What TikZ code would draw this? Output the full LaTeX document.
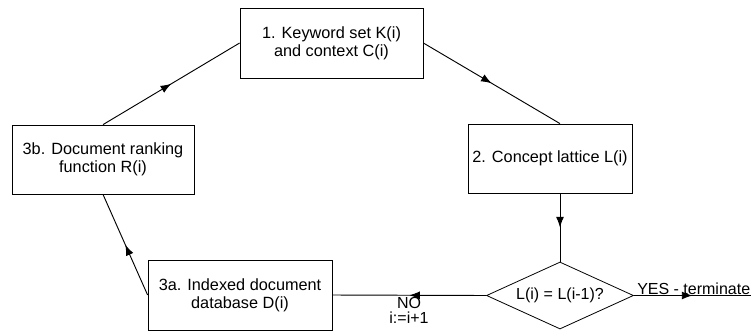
\documentclass[tikz,border=0pt]{standalone}
\usepackage{fontspec}
\setmainfont{Liberation Sans}
\usetikzlibrary{shapes.geometric, arrows.meta, decorations.markings, calc}
\tikzset{>=Latex}
\tikzset{
  stepbox/.style={draw, line width=0.6pt, align=center, inner sep=2pt,
    font=\fontsize{12.2}{13.5}\selectfont},
  test/.style={draw, diamond, line width=0.6pt, aspect=2.2, inner sep=1pt,
    minimum width=110.25pt, minimum height=50.25pt, font=\fontsize{12}{13.5}\selectfont},
  flow/.style={line width=0.7pt, postaction={decorate}, decoration={markings,
    mark=at position 0.5 with {\arrow{Latex[length=8pt,width=6pt]}}}},
  lbl/.style={font=\fontsize{12}{13.5}\selectfont, inner sep=0pt}
}

\begin{document}
\begin{tikzpicture}[x=0.75pt, y=-0.75pt]
  \useasboundingbox (0,0) rectangle (751,333);
  \node[stepbox, minimum width=137.25pt, minimum height=52.5pt] (kw) at (331.5,43) {1. Keyword set K(i)\\and context C(i)};
  \node[stepbox, minimum width=123pt, minimum height=51.75pt] (lat) at (550,158.5) {2. Concept lattice L(i)};
  \node[test] (same) at (560,295.5) {L(i) = L(i-1)?};
  \node[stepbox, minimum width=138pt, minimum height=52.5pt] (db) at (240,295) {3a. Indexed document\\database D(i)};
  \node[stepbox, minimum width=136.5pt, minimum height=51.75pt] (rank) at (103,159.5) {3b. Document ranking\\function R(i)};
  \coordinate (stop) at (751,295.5);
  % cycle
  \draw[flow] (kw.east) -- (lat.north -| same.north);
  \draw[flow] (lat.south -| same.north) -- (same.north);
  \draw[flow] (same.west) -- (db.east);
  \draw[flow] (db.west) -- (rank.south);
  \draw[flow] (rank.north) -- (kw.west);
  \draw[flow] (same.east) -- (stop);
  % labels
  \node[lbl, anchor=base west] (yes) at (637,294) {YES - terminate};
  \node[lbl, align=center, anchor=north, font=\fontsize{12}{11}\selectfont] (no) at (409,297) {NO\\i:=i+1};
\end{tikzpicture}
\end{document}
